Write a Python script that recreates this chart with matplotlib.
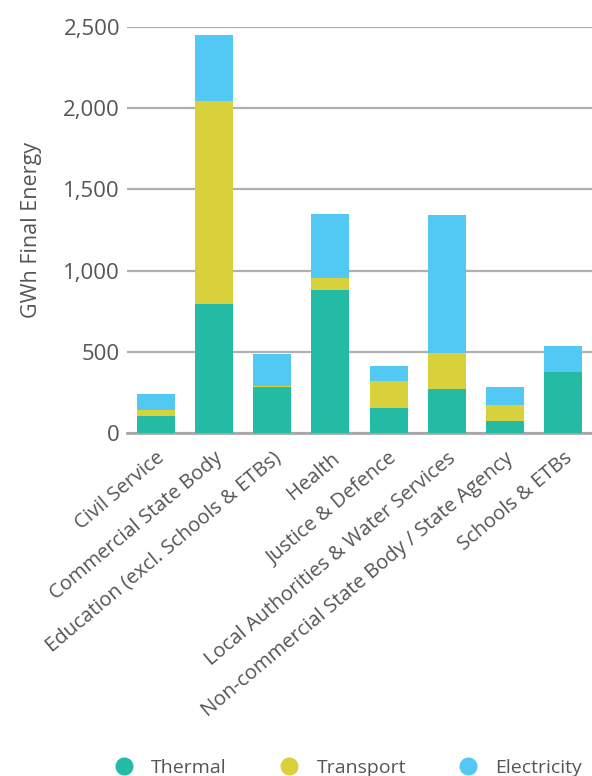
import matplotlib
matplotlib.use("Agg")
import matplotlib.pyplot as plt
from matplotlib.lines import Line2D

plt.rcParams["font.family"] = ["Open Sans", "DejaVu Sans"]

# GWh final energy by public sector category
categories = ["Civil Service", "Commercial State Body", "Education (excl. Schools & ETBs)",
              "Health", "Justice & Defence", "Local Authorities & Water Services",
              "Non-commercial State Body / State Agency", "Schools & ETBs"]
thermal     = [103, 793, 282, 879, 154, 269, 72, 374]
transport   = [37, 1252, 8, 76, 164, 222, 99, 0]
electricity = [103, 405, 199, 392, 93, 850, 110, 160]
series_names = ["Thermal", "Transport", "Electricity"]
colors = ["#23bba4", "#d9d13c", "#52c9f5"]
yticks = [0, 500, 1000, 1500, 2000, 2500]

fig = plt.figure(figsize=(5.92, 7.76), dpi=100)
ax = fig.add_axes([0.2145, 0.442, 0.7855, 0.523])

x = list(range(len(categories)))
bottom = [0] * len(categories)
for vals, c in zip([thermal, transport, electricity], colors):
    ax.bar(x, vals, width=0.655, bottom=bottom, color=c, zorder=3)
    bottom = [b + v for b, v in zip(bottom, vals)]

ax.set_xlim(-0.5, len(categories) - 0.5)
ax.set_ylim(0, 2500)
ax.set_yticks(yticks)
ax.set_yticklabels([f"{v:,}" for v in yticks], fontsize=16, color="#555555")
ax.yaxis.grid(True, color="#b0b0b0", lw=1.6, zorder=0)
ax.set_axisbelow(True)
for s in ["top", "right", "left"]:
    ax.spines[s].set_visible(False)
ax.spines["bottom"].set_color("#a8a8a8")
ax.spines["bottom"].set_linewidth(2)
ax.tick_params(axis="both", length=0)
ax.tick_params(axis="y", pad=5)
ax.set_xticks(x)
ax.set_xticklabels(categories, rotation=40, ha="right", va="top", rotation_mode="anchor",
                   fontsize=14.5, color="#555555")
ax.tick_params(axis="x", pad=11)
ax.set_ylabel("GWh Final Energy", fontsize=15.5, color="#555555", labelpad=15)

handles = [Line2D([], [], marker="o", ls="", markersize=12, color=c) for c in colors]
fig.legend(handles, series_names, loc="center", bbox_to_anchor=(0.58, 0.01), ncol=3,
           frameon=False, fontsize=14, labelcolor="#555555", handletextpad=0.4,
           columnspacing=2.2)

fig.savefig("out.png", dpi=100)
